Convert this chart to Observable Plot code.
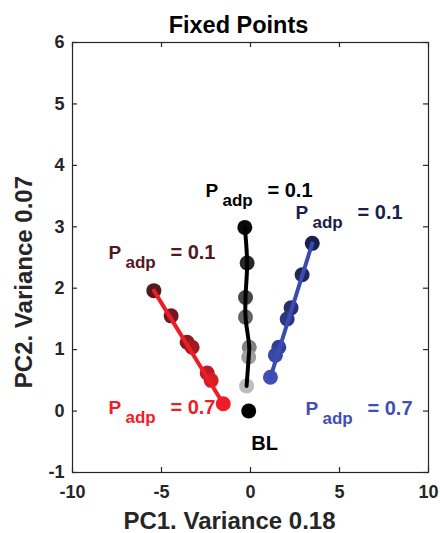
<!DOCTYPE html>
<html><head><meta charset="utf-8">
<script src="https://cdn.jsdelivr.net/npm/d3@7"></script>
<script src="https://cdn.jsdelivr.net/npm/@observablehq/plot@0.6"></script>
<style>
body{margin:0;background:#fff}
#chart svg{display:block}
</style>
</head><body><div id="chart"></div>
<script>
// P_adp levels (dark -> bright)
const padp = [0.1, 0.2, 0.3, 0.4, 0.5, 0.6, 0.7];
// fixed points per series
const redX   = [-5.43, -4.46, -3.56, -3.28, -2.43, -2.21, -1.53];
const redY   = [ 1.96,  1.55,  1.12,  1.04,  0.62,  0.50,  0.12];
const blackX = [-0.32, -0.19, -0.28, -0.28, -0.07, -0.10, -0.22];
const blackY = [ 2.99,  2.41,  1.85,  1.53,  1.04,  0.88,  0.41];
const blueX  = [ 3.47,  2.90,  2.28,  2.06,  1.59,  1.40,  1.12];
const blueY  = [ 2.73,  2.22,  1.68,  1.50,  1.04,  0.91,  0.55];
const blX = [-0.1];
const blY = [0];
const xTicks = [-10, -5, 0, 5, 10];
const yTicks = [-1, 0, 1, 2, 3, 4, 5, 6];
// annotation labels
const labelSeries = ["black", "red", "red", "blue", "blue"];
const labelValues = ["0.1", "0.1", "0.7", "0.1", "0.7"];
const labelX = [-2.53, -7.98, -7.98, 2.53, 3.09];
const labelY = [ 3.48,  2.47, -0.055, 3.12, -0.07];
// axis title anchors (data units)
const yTitle = {text: "PC2. Variance 0.07", x: -12.26, y: 2.10};

const ramps = {
  red:   d3.interpolateRgb("#521a1f", "#f01c26"),
  black: d3.interpolateRgb("#0a0a0a", "#bdbdbd"),
  blue:  d3.interpolateRgb("#1b1f4b", "#3f4fb6")
};
const lineColor = {red: "#ee1c25", black: "#000000", blue: "#3a4bb2"};
const t = v => (v - 0.1) / 0.6;

function series(name, xs, ys) {
  return padp.map((p, i) => ({series: name, padp: p, x: xs[i], y: ys[i]}));
}
const red = series("red", redX, redY);
const black = series("black", blackX, blackY);
const blue = series("blue", blueX, blueY);
const allPts = [...red, ...black, ...blue];
const bl = blX.map((x, i) => ({x, y: blY[i]}));
const labels = labelValues.map((v, i) => ({
  series: labelSeries[i], value: v, x: labelX[i], y: labelY[i],
  color: labelSeries[i] === "black" ? "#000" : ramps[labelSeries[i]](t(+v))
}));
const ends = arr => [arr[0], arr[arr.length - 1]];

const FONT = "'Liberation Sans', Arial, Helvetica, sans-serif";
const AX = "#262626";
const W = 440, H = 533, mL = 72, mR = 12, mT = 42, mB = 61;
const fw = W - mL - mR, fh = H - mT - mB;
const fmt = d => String(d);

const chart = Plot.plot({
  width: W, height: H,
  marginLeft: mL, marginRight: mR, marginTop: mT, marginBottom: mB,
  style: {fontFamily: FONT, fontWeight: "bold", background: "#fff"},
  x: {domain: [-10, 10], label: null},
  y: {domain: [-1, 6], label: null},
  marks: [
    Plot.frame({stroke: AX, strokeWidth: 1.2}),
    // inward ticks on all four sides
    Plot.tickX(xTicks, {x: d => d, insetTop: fh - 5, stroke: AX, strokeWidth: 1.2}),
    Plot.tickX(xTicks, {x: d => d, insetBottom: fh - 5, stroke: AX, strokeWidth: 1.2}),
    Plot.tickY(yTicks, {y: d => d, insetRight: fw - 5, stroke: AX, strokeWidth: 1.2}),
    Plot.tickY(yTicks, {y: d => d, insetLeft: fw - 5, stroke: AX, strokeWidth: 1.2}),
    Plot.axisX(xTicks, {anchor: "bottom", label: null, tickSize: 0, tickPadding: 13, tickFormat: fmt, fontSize: 18, fill: AX, fontWeight: "bold"}),
    Plot.axisY(yTicks, {anchor: "left", label: null, tickSize: 0, tickPadding: 8, tickFormat: fmt, fontSize: 18, fill: AX, fontWeight: "bold"}),
    // axis titles and title
    Plot.text(["PC1. Variance 0.18"], {frameAnchor: "bottom", dx: -21, dy: 56, lineAnchor: "bottom", fontSize: 24, fill: AX, fontWeight: "bold"}),
    Plot.text([yTitle], {x: "x", y: "y", text: "text", rotate: -90, lineAnchor: "bottom", fontSize: 24, fill: AX, fontWeight: "bold"}),
    Plot.text(["Fixed Points"], {frameAnchor: "top", dx: -12, dy: -10, lineAnchor: "bottom", fontSize: 23.5, fill: "#000", fontWeight: "bold"}),
    // points
    Plot.dot(allPts, {x: "x", y: "y", r: 7.5, fill: d => ramps[d.series](t(d.padp)), stroke: null}),
    Plot.dot(bl, {x: "x", y: "y", r: 7.5, fill: "#000"}),
    // trajectories
    Plot.line(ends(red), {x: "x", y: "y", stroke: lineColor.red, strokeWidth: 4}),
    Plot.line(ends(blue), {x: "x", y: "y", stroke: lineColor.blue, strokeWidth: 4}),
    Plot.line(black, {x: "x", y: "y", stroke: lineColor.black, strokeWidth: 4, curve: "catmull-rom"}),
    // labels P_adp = v
    Plot.text(labels, {x: "x", y: "y", text: () => "P", textAnchor: "start", lineAnchor: "bottom", fontSize: 19, fill: "color", fontWeight: "bold"}),
    Plot.text(labels, {x: "x", y: "y", text: () => "adp", textAnchor: "start", lineAnchor: "bottom", dx: 17, dy: 8.5, fontSize: 17, fill: "color", fontWeight: "bold"}),
    Plot.text(labels, {x: "x", y: "y", text: d => "= " + d.value, textAnchor: "start", lineAnchor: "bottom", dx: 62, fontSize: 20, fill: "color", fontWeight: "bold"}),
    Plot.text(bl, {x: "x", y: "y", text: () => "BL", textAnchor: "start", lineAnchor: "bottom", dx: 2.5, dy: 38.5, fontSize: 20, fill: "#000", fontWeight: "bold"})
  ]
});
document.getElementById("chart").append(chart);
</script>
</body></html>
